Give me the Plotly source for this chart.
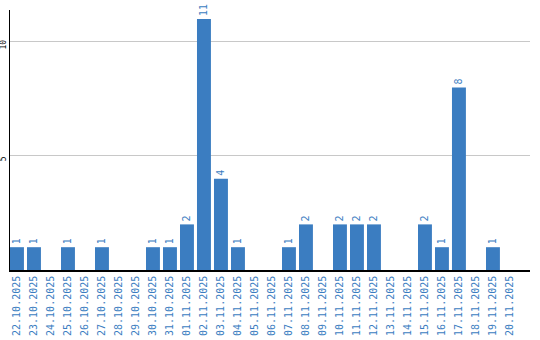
import plotly.graph_objects as go

dates = ["22.10.2025","23.10.2025","24.10.2025","25.10.2025","26.10.2025","27.10.2025",
         "28.10.2025","29.10.2025","30.10.2025","31.10.2025","01.11.2025","02.11.2025",
         "03.11.2025","04.11.2025","05.11.2025","06.11.2025","07.11.2025","08.11.2025",
         "09.11.2025","10.11.2025","11.11.2025","12.11.2025","13.11.2025","14.11.2025",
         "15.11.2025","16.11.2025","17.11.2025","18.11.2025","19.11.2025","20.11.2025"]
counts = [1,1,0,1,0,1,0,0,1,1,2,11,4,1,0,0,1,2,0,2,2,2,0,0,2,1,8,0,1,0]
y_ticks = [5, 10]

blue = "#3b7dc1"
labels = [str(v) if v else "" for v in counts]

fig = go.Figure(go.Bar(
    x=list(range(len(dates))), y=counts, text=labels,
    textposition="outside", textangle=-90, cliponaxis=False,
    textfont=dict(family="DejaVu Sans Mono", size=10, color=blue),
    marker=dict(color=blue, line=dict(width=0)),
))
fig.update_layout(
    width=540, height=340, margin=dict(l=10, r=10, t=10, b=70),
    plot_bgcolor="white", paper_bgcolor="white", showlegend=False, bargap=0.18,
    uniformtext=dict(minsize=10, mode="show"),
)
fig.update_xaxes(
    range=[-0.41, 30.18], tickmode="array", tickvals=list(range(len(dates))), ticktext=dates,
    tickangle=-90, tickfont=dict(family="DejaVu Sans Mono", size=10, color=blue),
    showline=True, linecolor="black", linewidth=1.5, showgrid=False, ticks="", zeroline=False,
    automargin=False,
)
fig.update_yaxes(
    range=[0, 11.4], tickmode="array", tickvals=y_ticks, ticktext=[str(t) for t in y_ticks],
    tickangle=-90, tickfont=dict(family="DejaVu Sans Mono", size=8, color="black"),
    showline=True, linecolor="black", linewidth=1, showgrid=True, gridcolor="#c8c8c8",
    gridwidth=1, ticks="", zeroline=False, automargin=False, ticklabelstandoff=0,
    ticklabelshift=4,
)
fig.write_html("out.html")
